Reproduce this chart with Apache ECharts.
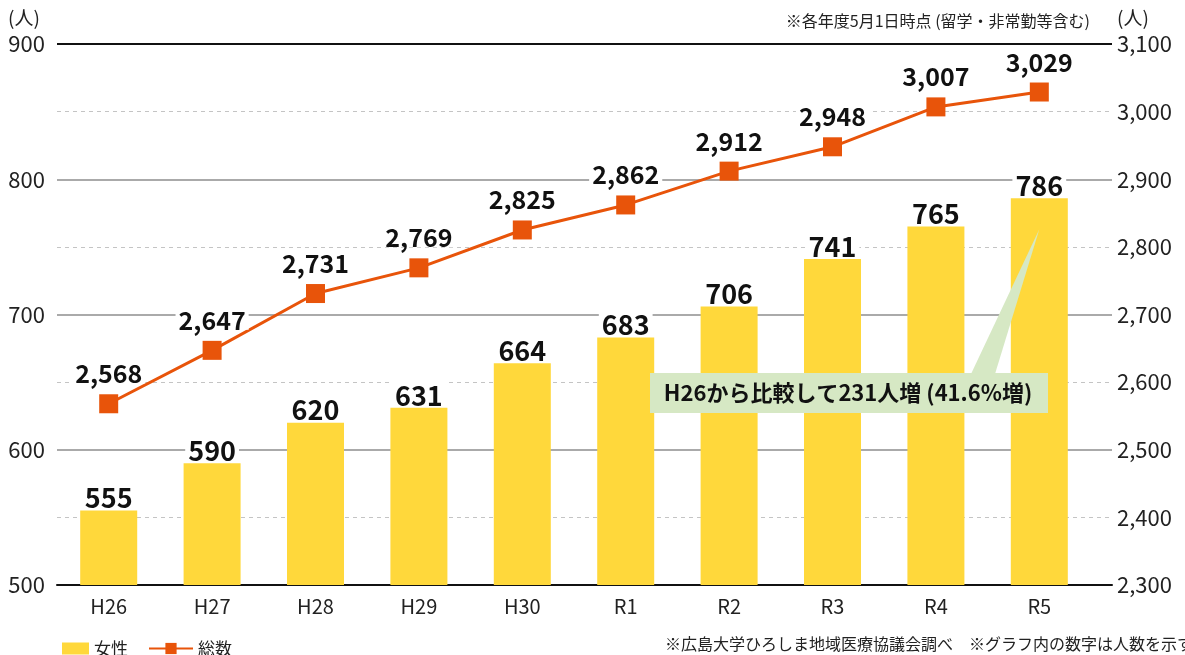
<!DOCTYPE html>
<html>
<head>
<meta charset="utf-8">
<script src="https://cdn.jsdelivr.net/npm/echarts@6/dist/echarts.min.js"></script>
<style>
  html, body { margin: 0; padding: 0; background: #fff; }
  #main { width: 1185px; height: 655px; }
</style>
</head>
<body>
<div id="main"></div>
<script>
const years = ['H26', 'H27', 'H28', 'H29', 'H30', 'R1', 'R2', 'R3', 'R4', 'R5'];
const women = [555, 590, 620, 631, 664, 683, 706, 741, 765, 786];
const total = [2568, 2647, 2731, 2769, 2825, 2862, 2912, 2948, 3007, 3029];

const font = '"Noto Sans CJK JP", "Noto Sans", sans-serif';
const formatter = new Intl.NumberFormat('ja-JP');

const slots = years.map((_, i) => i);

const chart = echarts.init(document.getElementById('main'));

const option = {
    textStyle: { fontFamily: font },
    animation: false,
    grid: { left: 57, right: 73, top: 44, bottom: 70 },
    legend: [
        {
            left: 57,
            top: 635,
            itemWidth: 27,
            itemHeight: 12,
            textStyle: { fontSize: 17, color: '#222', fontFamily: font },
            data: [{ name: '女性', icon: 'rect' }]
        },
        {
            left: 143,
            top: 635,
            itemWidth: 44,
            itemHeight: 14,
            textStyle: { fontSize: 17, color: '#222', fontFamily: font },
            data: [{ name: '総数' }]
        }
    ],
    xAxis: {
        type: 'value',
        min: -0.5,
        max: 9.703,
        axisLine: { show: true, onZero: false, lineStyle: { color: '#111', width: 2 } },
        axisTick: { show: false },
        splitLine: { show: false },
        axisLabel: {
            fontSize: 20,
            color: '#222',
            margin: 11,
            customValues: slots,
            formatter: (v) => years[v]
        }
    },
    yAxis: [
        {
            type: 'value',
            min: 500,
            max: 900,
            interval: 100,
            axisLine: { show: false },
            axisTick: { show: false },
            axisLabel: { fontSize: 22, color: '#222', margin: 12 },
            splitLine: { lineStyle: { color: ['rgba(0,0,0,0)', '#aaa', '#aaa', '#aaa', '#111'], width: 2 } }
        },
        {
            type: 'value',
            min: 2300,
            max: 3100,
            interval: 100,
            axisLine: { show: false },
            axisTick: { show: false },
            axisLabel: { fontSize: 22, color: '#222', margin: 5, formatter: (v) => formatter.format(v) },
            splitLine: { lineStyle: { color: ['rgba(0,0,0,0)', '#c4c4c4'], type: [4, 4], width: 1 } }
        }
    ],
    series: [
        {
            name: '女性',
            type: 'bar',
            data: slots.map((i) => [i, women[i]]),
            barWidth: 57,
            itemStyle: { color: '#FFD83B' },
            label: {
                show: true,
                position: 'top',
                distance: 2,
                fontSize: 27,
                fontWeight: 'bold',
                color: '#111',
                backgroundColor: '#fff',
                padding: [0, 3, -3, 3],
                formatter: (p) => p.value[1]
            },
            z: 2
        },
        {
            name: '総数',
            type: 'line',
            yAxisIndex: 1,
            data: slots.map((i) => [i, total[i]]),
            symbol: 'rect',
            symbolSize: 19,
            lineStyle: { color: '#E8540A', width: 3 },
            itemStyle: { color: '#E8540A' },
            label: {
                show: true,
                position: 'top',
                distance: 11,
                fontSize: 25,
                fontWeight: 'bold',
                color: '#111',
                backgroundColor: '#fff',
                padding: [0, 3, -3, 3],
                formatter: (p) => formatter.format(p.value[1])
            },
            z: 3
        }
    ]
};

chart.setOption(option);

// callout annotation pointing at the R5 bar
const tip = chart.convertToPixel({ xAxisIndex: 0, yAxisIndex: 0 }, [9, 763]);
chart.setOption({
    graphic: [
        {
            type: 'polygon',
            z: 10,
            shape: { points: [[971, 374], [995, 374], tip] },
            style: { fill: '#D6E8C4' }
        },
        {
            type: 'rect',
            z: 10,
            shape: { x: 650, y: 373, width: 398, height: 40 },
            style: { fill: '#D6E8C4' }
        },
        {
            type: 'text',
            z: 11,
            x: 848,
            y: 393,
            style: {
                text: 'H26から比較して231人増 (41.6%増)',
                font: 'bold 22px ' + font,
                fill: '#111',
                align: 'center',
                verticalAlign: 'middle'
            }
        },
        {
            type: 'text',
            x: 8,
            y: 18,
            style: { text: '(人)', font: '19px ' + font, fill: '#222', verticalAlign: 'middle' }
        },
        {
            type: 'text',
            x: 1117,
            y: 18,
            style: { text: '(人)', font: '19px ' + font, fill: '#222', verticalAlign: 'middle' }
        },
        {
            type: 'text',
            x: 1090,
            y: 21,
            style: {
                text: '※各年度5月1日時点 (留学・非常勤等含む)',
                font: '16px ' + font,
                fill: '#222',
                align: 'right',
                verticalAlign: 'middle'
            }
        },
        {
            type: 'text',
            x: 665,
            y: 644,
            style: {
                text: '※広島大学ひろしま地域医療協議会調べ　※グラフ内の数字は人数を示す',
                font: '16px ' + font,
                fill: '#222',
                verticalAlign: 'middle'
            }
        }
    ]
});
</script>
</body>
</html>
